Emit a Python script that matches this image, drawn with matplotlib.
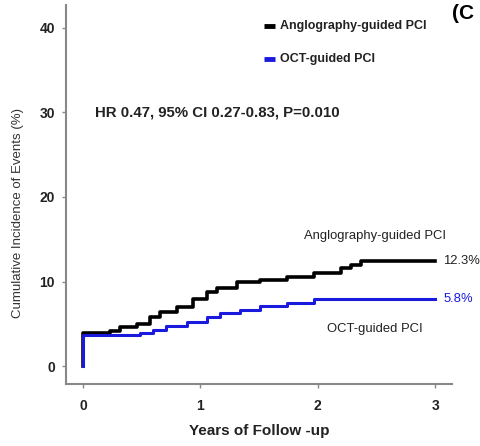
import matplotlib.pyplot as plt

# Kaplan-Meier style cumulative incidence
ang_years = [0, 0, 0.23, 0.32, 0.46, 0.57, 0.66, 0.80, 0.94, 1.06, 1.14, 1.31,
             1.51, 1.74, 1.97, 2.20, 2.28, 2.37, 3.0]
ang_vals = [0, 3.9, 4.2, 4.6, 5.0, 5.8, 6.4, 7.0, 8.0, 8.8, 9.3, 10.0,
            10.2, 10.6, 11.0, 11.6, 12.0, 12.4, 12.4]
oct_years = [0, 0, 0.25, 0.49, 0.60, 0.71, 0.89, 1.06, 1.17, 1.34, 1.51,
             1.74, 1.97, 2.20, 3.0]
oct_vals = [0, 3.7, 3.7, 3.9, 4.3, 4.7, 5.2, 5.8, 6.3, 6.6, 7.1,
            7.5, 7.9, 8.0, 8.0]

plt.rcParams['font.family'] = ['Liberation Sans', 'DejaVu Sans']
blue = '#1a1adf'
txt = '#222222'

fig = plt.figure(figsize=(4.81, 4.46), dpi=100)
ax = fig.add_axes([0.137, 0.139, 0.803, 0.85])

ax.step(ang_years, ang_vals, where='post', color='black', lw=2.6)
ax.step(oct_years, oct_vals, where='post', color=blue, lw=2.2)

ax.set_xlim(-0.145, 3.145)
ax.set_ylim(-2.1, 42.7)
ax.set_xticks([0, 1, 2, 3])
ax.set_yticks([0, 10, 20, 30, 40])
ax.tick_params(labelsize=10, length=3, color='#888888', width=1, labelcolor=txt)
ax.tick_params(axis='x', pad=8)
ax.tick_params(axis='y', pad=5)
for lbl in ax.get_xticklabels() + ax.get_yticklabels():
    lbl.set_fontweight('bold')
for s in ['top', 'right']:
    ax.spines[s].set_visible(False)
for s in ['left', 'bottom']:
    ax.spines[s].set_color('#888888')
    ax.spines[s].set_linewidth(1.5)

ax.set_xlabel('Years of Follow -up', fontsize=11, fontweight='bold', labelpad=8, color=txt)
ax.set_ylabel('Cumulative Incidence of Events (%)', fontsize=9.5, color='#333333')
ax.yaxis.set_label_coords(-0.108, 0.45)

# legend drawn as text entries
ax.plot([1.54, 1.64], [40.2, 40.2], color='black', lw=3.5, solid_capstyle='butt')
ax.text(1.68, 40.2, 'Anglography-guided PCI', fontsize=9, fontweight='bold', va='center', color=txt)
ax.plot([1.54, 1.64], [36.3, 36.3], color=blue, lw=3.5, solid_capstyle='butt')
ax.text(1.68, 36.3, 'OCT-guided PCI', fontsize=9, fontweight='bold', va='center', color=txt)

ax.text(0.1, 30, 'HR 0.47, 95% CI 0.27-0.83, P=0.010', fontsize=10.8, fontweight='bold',
        va='center', color=txt)

ax.text(2.49, 15.4, 'Anglography-guided PCI', fontsize=9.4, ha='center', va='center', color=txt)
ax.text(2.49, 4.4, 'OCT-guided PCI', fontsize=9.4, ha='center', va='center', color=txt)
ax.text(3.07, 12.4, '12.3%', fontsize=9.4, va='center', color=txt)
ax.text(3.07, 7.9, '5.8%', fontsize=9.4, va='center', color=blue)

fig.text(0.94, 0.97, '(C', fontsize=15, fontweight='bold', va='center')

fig.savefig('out.png', dpi=100)
